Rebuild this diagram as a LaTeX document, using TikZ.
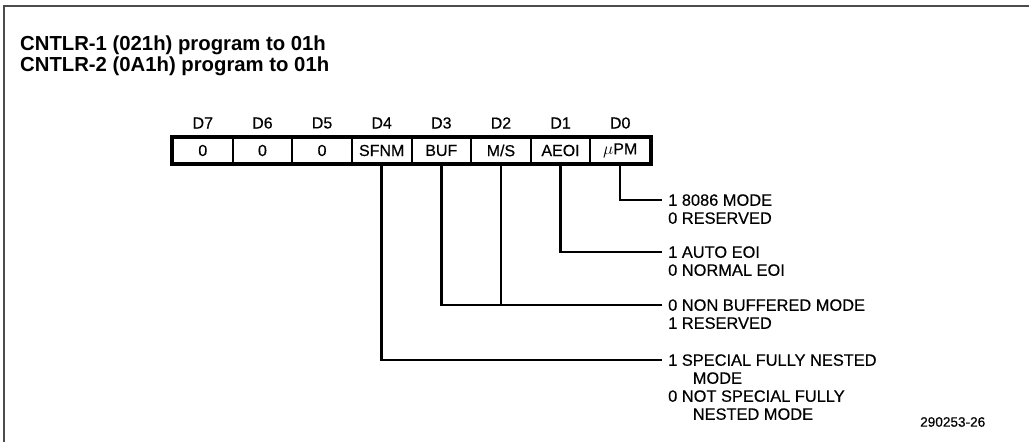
\documentclass[tikz,border=0pt]{standalone}
\usepackage{fontspec}
\setmainfont{Liberation Sans}
\newfontfamily\lblfont[FakeBold=0.35]{Liberation Sans}
\begin{document}
\begin{tikzpicture}[x=1pt,y=-1pt,
  frameline/.style={draw=black!70, line width=1.6pt},
  cell/.style={draw, line width=2pt, minimum width=59.625pt, minimum height=25pt, inner sep=0pt, font=\lblfont\fontsize{16}{16}\selectfont},
  hdr/.style={inner sep=0pt, font=\lblfont\fontsize{16}{16}\selectfont},
  opt/.style={anchor=west, inner xsep=6.5pt, inner ysep=0pt, text height=11.5pt, text depth=0pt, font=\lblfont\fontsize{16.4}{16}\selectfont},
  wire/.style={line width=2.5pt},
  ttl/.style={anchor=west, inner sep=0pt, font=\bfseries\fontsize{20.3}{22}\selectfont},
  fig/.style={anchor=west, inner sep=0pt, font=\lblfont\fontsize{13.6}{14}\selectfont}]
\useasboundingbox (0,0) rectangle (1029,442);
% frame
\draw[frameline] (4,442) -- (4,6) -- (1029,6);
% title
\node[ttl] (title1) at (20,45) {CNTLR-1 (021h) program to 01h};
\node[ttl] (title2) at (20,66) {CNTLR-2 (0A1h) program to 01h};
% register cells
\node[cell] (c7) at (202.81,150.5) {0};
\node[cell] (c6) at (262.44,150.5) {0};
\node[cell] (c5) at (322.06,150.5) {0};
\node[cell] (c4) at (381.69,150.5) {SFNM};
\node[cell] (c3) at (441.31,150.5) {BUF};
\node[cell] (c2) at (500.94,150.5) {M/S};
\node[cell] (c1) at (560.56,150.5) {AEOI};
\node[cell] (c0) at (620.19,150.5) {$\mu$PM};
\draw[line width=3.5pt] (c7.north west) rectangle (c0.south east);
% headers
\node[hdr] (h7) at (202.81,123) {D7};
\node[hdr] (h6) at (262.44,123) {D6};
\node[hdr] (h5) at (322.06,123) {D5};
\node[hdr] (h4) at (381.69,123) {D4};
\node[hdr] (h3) at (441.31,123) {D3};
\node[hdr] (h2) at (500.94,123) {D2};
\node[hdr] (h1) at (560.56,123) {D1};
\node[hdr] (h0) at (620.19,123) {D0};
% option texts
\node[opt] (t0a) at (661.5,200) {1 8086 MODE};
\node[opt] (t0b) at (661.5,218) {0 RESERVED};
\node[opt] (t1a) at (661.5,252) {1 AUTO EOI};
\node[opt] (t1b) at (661.5,270) {0 NORMAL EOI};
\node[opt] (t2a) at (661.5,305) {0 NON BUFFERED MODE};
\node[opt] (t2b) at (661.5,323) {1 RESERVED};
\node[opt] (t3a) at (661.5,360) {1 SPECIAL FULLY NESTED};
\node[opt] (t3b) at (661.5,378) {\phantom{1 S}MODE};
\node[opt] (t3c) at (661.5,396) {0 NOT SPECIAL FULLY};
\node[opt] (t3d) at (661.5,414) {\phantom{1 S}NESTED MODE};
\node[fig] (fignum) at (920,422) {290253-26};
% connectors
\draw[wire] (c0.south) |- (t0a.west);
\draw[wire] (c1.south) |- (t1a.west);
\draw[wire] (c3.south) |- (t2a.west);
\draw[wire] (c2.south) -- (c2.south |- t2a.west);
\draw[wire] (c4.south) |- (t3a.west);
\end{tikzpicture}
\end{document}
